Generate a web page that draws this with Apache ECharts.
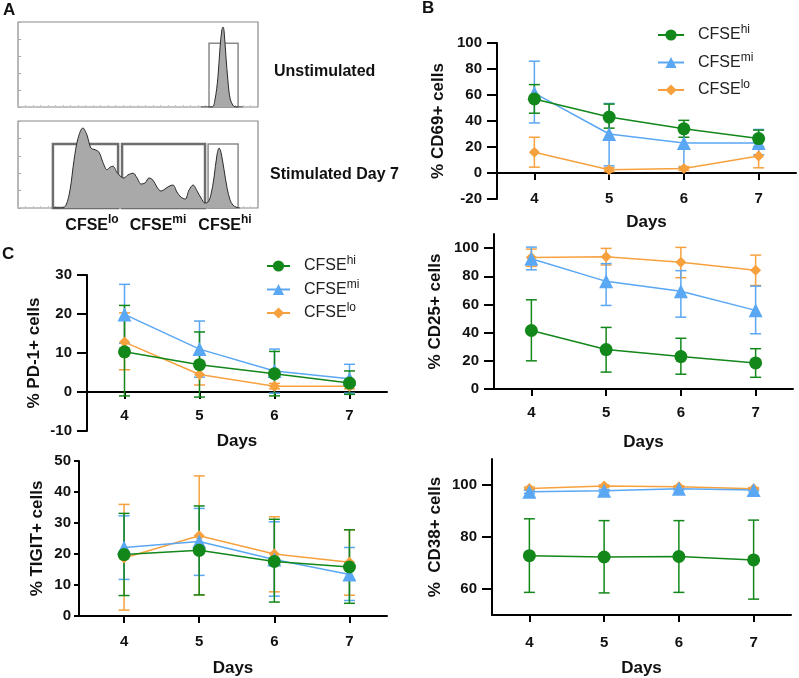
<!DOCTYPE html>
<html><head><meta charset="utf-8">
<script src="https://cdn.jsdelivr.net/npm/echarts@6/dist/echarts.min.js"></script>
<style>html,body{margin:0;padding:0;background:#fff}#c{width:799px;height:678px}</style>
</head><body><div id="c"></div><script>
// ---------- data ----------
const days = [4, 5, 6, 7];
const dayTicks = [4, 5, 6, 7];
const groupKeys = ['lo', 'mi', 'hi'];

// CD69
const cd69HiMean = [57, 43, 34, 26.5];
const cd69HiLow  = [46, 34.5, 27.5, 20];
const cd69HiUp   = [68, 53, 40.5, 33];
const cd69MiMean = [61.5, 30, 23, 23];
const cd69MiLow  = [38.5, 5.5, 4, 14];
const cd69MiUp   = [86, 53.5, 34, 33.5];
const cd69LoMean = [16, 2.5, 3.5, 13];
const cd69LoLow  = [4.5, 1, 2, 4];
const cd69LoUp   = [27.5, 4, 5, 20];
// CD25
const cd25HiMean = [41.5, 28, 23, 18.5];
const cd25HiLow  = [20, 12, 10.5, 8.3];
const cd25HiUp   = [63.3, 43.7, 36, 28.6];
const cd25MiMean = [92.4, 76.4, 69.3, 55.8];
const cd25MiLow  = [84.6, 59.3, 51, 39.2];
const cd25MiUp   = [100.7, 89, 84, 73];
const cd25LoMean = [93.3, 93.8, 89.9, 84.3];
const cd25LoLow  = [87, 88, 79, 73.5];
const cd25LoUp   = [99.3, 99.8, 100.5, 95];
// PD-1
const pd1HiMean = [10.3, 7, 4.7, 2.3];
const pd1HiLow  = [-1, -1.3, -1, -0.6];
const pd1HiUp   = [22.2, 15.4, 10.4, 5.4];
const pd1MiMean = [19.9, 11, 5.4, 3.4];
const pd1MiLow  = [12.5, 3.8, -0.3, -0.3];
const pd1MiUp   = [27.6, 18.2, 11, 7.1];
const pd1LoMean = [12.8, 4.5, 1.5, 1.5];
const pd1LoLow  = [5.7, 1.8, 0.8, 0.8];
const pd1LoUp   = [20.3, 6.8, 2.2, 2.2];
// TIGIT
const tigitHiMean = [19.8, 21.2, 17.6, 15.8];
const tigitHiLow  = [6.6, 6.8, 4.5, 4.1];
const tigitHiUp   = [33.1, 35.5, 31.2, 27.8];
const tigitMiMean = [22.1, 24, 18.2, 13.4];
const tigitMiLow  = [11.8, 13.1, 6.4, 5];
const tigitMiUp   = [32.3, 34.7, 30.4, 22.1];
const tigitLoMean = [18.7, 25.9, 20, 17.3];
const tigitLoLow  = [1.9, 6.8, 7.8, 6.7];
const tigitLoUp   = [36, 45.2, 32, 27.8];
// CD38
const cd38HiMean = [72.8, 72.3, 72.5, 71.2];
const cd38HiLow  = [58.7, 58.5, 58.7, 56.1];
const cd38HiUp   = [87, 86.3, 86.3, 86.5];
const cd38MiMean = [97.4, 97.8, 98.6, 98.1];
const cd38MiLow  = [96.8, 97.3, 98.1, 97.7];
const cd38MiUp   = [98, 98.3, 99.1, 98.6];
const cd38LoMean = [98.7, 99.6, 99.3, 98.6];
const cd38LoLow  = [98.2, 99.2, 98.9, 98.2];
const cd38LoUp   = [99.2, 100, 99.7, 99];

// y tick values
const cd69Ticks = [-20, 0, 20, 40, 60, 80, 100];
const cd25Ticks = [0, 20, 40, 60, 80, 100];
const pd1Ticks = [-10, 0, 10, 20, 30];
const tigitTicks = [0, 10, 20, 30, 40, 50];
const cd38Ticks = [60, 80, 100];

// Histograms (panel A): fluorescence channel vs % of max
const unstimX = [780, 828, 840, 853, 862, 870, 875, 879, 887, 896, 905, 917, 930, 960];
const unstimY = [0, 0, 8, 35, 70, 91, 94, 90, 60, 30, 10, 2, 0, 0];
const stimX = [150, 188, 205, 222, 239, 256, 277, 294, 311, 329, 346, 363, 380, 393, 405, 422, 439, 452, 469, 491, 508, 525, 542, 559, 576, 593, 610, 627, 644, 661, 678, 695, 713, 730, 747, 764, 781, 798, 811, 823, 836, 849, 858, 866, 879, 892, 905, 917, 930, 947];
const stimY = [0, 0, 3.4, 20.7, 55, 80, 92, 84, 69, 67, 64, 52, 44, 47, 48, 41, 36, 34.5, 38, 40, 34.5, 27.6, 28.7, 34.5, 32, 24, 19.5, 21.8, 25, 26.4, 18.4, 12.6, 10.3, 20.7, 26.4, 19.5, 11.5, 5.7, 6.9, 15, 34.5, 61, 69, 64, 44, 23, 9, 3.4, 1, 0];
const unstimGate = [815, 939, 75];
const stimGateLo = [149, 427, 73.6];
const stimGateMi = [444, 798, 73.6];
const stimGateHi = [811, 939, 73.6];

// ---------- styling ----------
const FONT = '"Liberation Sans", Arial, Helvetica, sans-serif';
const colors = { hi: '#12871a', mi: '#5aa7f3', lo: '#f7a13e' };
const symbols = { hi: 'circle', mi: 'triangle', lo: 'diamond' };
const symSizes = { hi: 13, mi: 14, lo: 11 };

const panels = [
  { name: '% CD69+ cells', grid: { left: 497, top: 43, width: 299, height: 156 }, xr: [3.5, 7.5], yr: [-20, 100], yt: cd69Ticks, gap: 50, xm: -8, ng: 15,
    d: { hi: [cd69HiMean, cd69HiLow, cd69HiUp], mi: [cd69MiMean, cd69MiLow, cd69MiUp], lo: [cd69LoMean, cd69LoLow, cd69LoUp] } },
  { name: '% CD25+ cells', grid: { left: 494, top: 234, width: 299, height: 155 }, xr: [3.5, 7.5], yr: [0, 110], yt: cd25Ticks, gap: 50, xm: 16, ng: 45,
    d: { hi: [cd25HiMean, cd25HiLow, cd25HiUp], mi: [cd25MiMean, cd25MiLow, cd25MiUp], lo: [cd25LoMean, cd25LoLow, cd25LoUp] } },
  { name: '% PD-1+ cells', grid: { left: 87, top: 275, width: 300, height: 156 }, xr: [3.5, 7.5], yr: [-10, 30], yt: pd1Ticks, gap: 44, xm: -23, ng: 2,
    d: { hi: [pd1HiMean, pd1HiLow, pd1HiUp], mi: [pd1MiMean, pd1MiLow, pd1MiUp], lo: [pd1LoMean, pd1LoLow, pd1LoUp] } },
  { name: '% TIGIT+ cells', grid: { left: 79, top: 461, width: 308, height: 156 }, xr: [3.4, 7.5], yr: [0, 50], yt: tigitTicks, gap: 33, tick: 5, lm: 8, xm: 18, ng: 44,
    d: { hi: [tigitHiMean, tigitHiLow, tigitHiUp], mi: [tigitMiMean, tigitMiLow, tigitMiUp], lo: [tigitLoMean, tigitLoLow, tigitLoUp] } },
  { name: '%  CD38+ cells', grid: { left: 492, top: 459, width: 299, height: 156 }, xr: [3.5, 7.5], yr: [50, 110], yt: cd38Ticks, gap: 48, xm: 20, ng: 45,
    d: { hi: [cd38HiMean, cd38HiLow, cd38HiUp], mi: [cd38MiMean, cd38MiLow, cd38MiUp], lo: [cd38LoMean, cd38LoLow, cd38LoUp] } }
];

const grids = [], xAxes = [], yAxes = [], series = [];

function errRender(params, api) {
  const x = api.value(0), lo = api.value(1), hi = api.value(2);
  const p1 = api.coord([x, hi]), p2 = api.coord([x, lo]);
  const w = 5.5;
  const st = { stroke: api.visual('color'), lineWidth: 1.5 };
  return { type: 'group', children: [
    { type: 'line', shape: { x1: p1[0], y1: p1[1], x2: p2[0], y2: p2[1] }, style: st },
    { type: 'line', shape: { x1: p1[0] - w, y1: p1[1], x2: p1[0] + w, y2: p1[1] }, style: st },
    { type: 'line', shape: { x1: p2[0] - w, y1: p2[1], x2: p2[0] + w, y2: p2[1] }, style: st }
  ] };
}

panels.forEach((p, i) => {
  grids.push(Object.assign({ containLabel: false }, p.grid));
  xAxes.push({
    type: 'value', gridIndex: i, min: p.xr[0], max: p.xr[1],
    name: 'Days', nameLocation: 'middle', nameGap: p.ng,
    nameTextStyle: { fontFamily: FONT, fontWeight: 'bold', fontSize: 17, color: '#111' },
    axisLine: { onZero: true, lineStyle: { color: '#000', width: 2 } },
    axisTick: { show: true, length: 7, lineStyle: { color: '#000', width: 2 }, customValues: dayTicks },
    axisLabel: { margin: p.xm, fontFamily: FONT, fontWeight: 'bold', fontSize: 15, color: '#111', customValues: dayTicks },
    splitLine: { show: false }
  });
  yAxes.push({
    type: 'value', gridIndex: i, min: p.yr[0], max: p.yr[1],
    name: p.name, nameLocation: 'middle', nameGap: p.gap, nameRotate: 90,
    nameTextStyle: { fontFamily: FONT, fontWeight: 'bold', fontSize: 17, color: '#111' },
    axisLine: { show: true, onZero: false, lineStyle: { color: '#000', width: 2 } },
    axisTick: { show: true, length: p.tick || 10, lineStyle: { color: '#000', width: 2 }, customValues: p.yt },
    axisLabel: { margin: p.lm || 15, fontFamily: FONT, fontWeight: 'bold', fontSize: 15, color: '#111', customValues: p.yt },
    splitLine: { show: false }
  });
  groupKeys.forEach(g => {
    const [m, lo, up] = p.d[g];
    series.push({
      type: 'custom', name: 'err-' + g, xAxisIndex: i, yAxisIndex: i,
      renderItem: errRender, itemStyle: { color: colors[g] },
      encode: { x: 0, y: [1, 2] }, silent: true, clip: false,
      data: days.map((d, j) => [d, lo[j], up[j]])
    });
    series.push({
      type: 'line', name: 'CFSE' + g, xAxisIndex: i, yAxisIndex: i,
      symbol: symbols[g], symbolSize: symSizes[g], showAllSymbol: true,
      itemStyle: { color: colors[g] }, lineStyle: { color: colors[g], width: 1.5 },
      silent: true, animation: false,
      data: days.map((d, j) => [d, m[j]])
    });
  });
});

// Panel A histograms
const histGrids = [
  { left: 18, top: 22, width: 240, height: 85 },
  { left: 18, top: 121, width: 240, height: 87 }
];
histGrids.forEach((hg, k) => {
  const gi = grids.length;
  grids.push(Object.assign({ show: true, borderColor: '#8a8a8a', borderWidth: 1.2, backgroundColor: '#fff' }, hg));
  xAxes.push({ type: 'value', gridIndex: gi, min: 0, max: 1024, interval: 32,
    axisLine: { show: false }, axisLabel: { show: false }, splitLine: { show: false },
    axisTick: { show: true, inside: true, length: 2, lineStyle: { color: '#c4c4c4', width: 1 } } });
  yAxes.push({ type: 'value', gridIndex: gi, min: 0, max: 100, interval: 20,
    axisLine: { show: false }, axisLabel: { show: false }, splitLine: { show: false },
    axisTick: { show: true, inside: true, length: 3, lineStyle: { color: '#aaa', width: 1 } } });
  const xs = k === 0 ? unstimX : stimX, ys = k === 0 ? unstimY : stimY;
  const gates = k === 0 ? [[unstimGate, '#8a8a8a', 1.5]] :
    [[stimGateLo, '#6e6e6e', 2.5], [stimGateMi, '#6e6e6e', 2.5], [stimGateHi, '#8a8a8a', 1.5]];
  series.push({
    type: 'line', name: 'hist' + k, xAxisIndex: gi, yAxisIndex: gi, smooth: 0.35,
    symbol: 'none', silent: true, animation: false,
    lineStyle: { color: '#2b2b2b', width: 1 }, areaStyle: { color: '#a9a9a9', opacity: 1 },
    data: xs.map((x, j) => [x, ys[j]]),
    markArea: { silent: true, data: gates.map(([gt, c, w]) => [
      { xAxis: gt[0], yAxis: 0, itemStyle: { color: 'rgba(0,0,0,0)', borderColor: c, borderWidth: w } },
      { xAxis: gt[1], yAxis: gt[2] }]) }
  });
});

const legendRich = {
  a: { fontFamily: FONT, fontSize: 16, color: '#222', lineHeight: 22, padding: [0, 0, 0, 9] },
  s: { fontFamily: FONT, fontSize: 12, color: '#222', lineHeight: 12, verticalAlign: 'top' }
};
const legendFmt = n => '{a|CFSE}{s|' + n.replace('CFSE', '') + '}';
const legendNames = ['CFSEhi', 'CFSEmi', 'CFSElo'];

const supRich = {
  a: { fontFamily: FONT, fontSize: 16, fontWeight: 'bold', color: '#111', lineHeight: 24 },
  s: { fontFamily: FONT, fontSize: 12, fontWeight: 'bold', color: '#111', lineHeight: 13, verticalAlign: 'top' }
};
function txt(x, y, text, size, align, rich) {
  return { type: 'text', x: x, y: y, silent: true, style: {
    text: text, fontFamily: FONT, fontWeight: 'bold', fontSize: size, fill: '#111',
    align: align || 'left', verticalAlign: 'middle', rich: rich } };
}

const option = {
  backgroundColor: '#fff',
  animation: false,
  grid: grids, xAxis: xAxes, yAxis: yAxes, series: series,
  legend: [
    { orient: 'vertical', left: 657, top: 24, padding: 0, itemWidth: 26, itemHeight: 14, itemGap: 8.5,
      selectedMode: false, data: legendNames, formatter: legendFmt, textStyle: { rich: legendRich } },
    { orient: 'vertical', left: 266, top: 255, padding: 0, itemWidth: 23, itemHeight: 14, itemGap: 4.5,
      selectedMode: false, data: legendNames, formatter: legendFmt, textStyle: { rich: legendRich } }
  ],
  graphic: [
    txt(3, 10, 'A', 17),
    txt(422, 8, 'B', 17),
    txt(2, 254, 'C', 17),
    txt(274, 72, 'Unstimulated', 16),
    txt(270, 175, 'Stimulated Day 7', 16),
    txt(92, 226, '{a|CFSE}{s|lo}', 16, 'center', supRich),
    txt(158, 226, '{a|CFSE}{s|mi}', 16, 'center', supRich),
    txt(225, 226, '{a|CFSE}{s|hi}', 16, 'center', supRich)
  ]
};
const chart = echarts.init(document.getElementById('c'), null, { renderer: 'canvas' });
chart.setOption(option);
</script></body></html>
